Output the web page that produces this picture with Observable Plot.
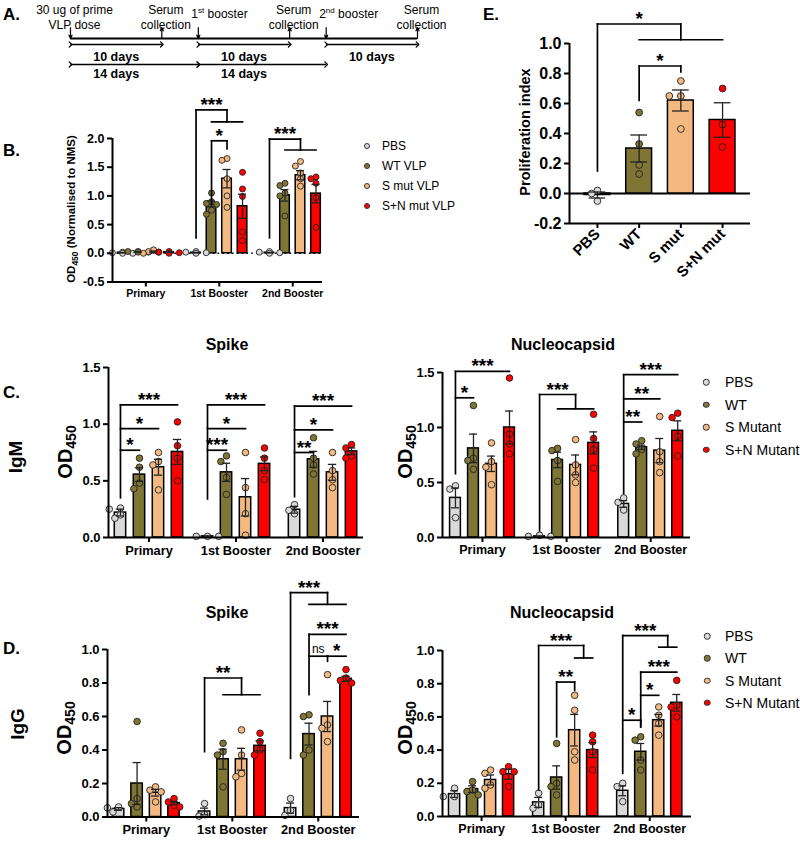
<!DOCTYPE html>
<html><head><meta charset="utf-8">
<script src="https://cdn.jsdelivr.net/npm/d3@7"></script>
<script src="https://cdn.jsdelivr.net/npm/@observablehq/plot@0.6"></script>
<style>
body{margin:0;background:#fff;}
#page{position:relative;width:800px;height:841px;overflow:hidden;font-family:"Liberation Sans",Arial,sans-serif;color:#000;background:#fff;}
.abs{position:absolute;white-space:nowrap;line-height:1;}
.letter{font-weight:bold;font-size:17px;transform:translate(0,-50%);}
.rot{transform:translate(-50%,-50%) rotate(-90deg);font-weight:bold;}
.ctr{transform:translate(-50%,-50%);font-weight:bold;}
.lt{transform:translate(0,-50%);}
.dot{border-radius:50%;border:0.8px solid #333;box-sizing:border-box;transform:translate(-50%,-50%);}
.holder{position:absolute;}
.holder svg{overflow:visible;}
g[aria-label="stars"] text{letter-spacing:2px;}
</style></head><body><div id="page"></div>
<script>
// ---------- DATA ----------
const groups = ["Primary", "1st Booster", "2nd Booster"];
const seriesB = ["PBS", "WT VLP", "S mut VLP", "S+N mut VLP"];
const seriesCD = ["PBS", "WT", "S Mutant", "S+N Mutant"];
const seriesE = ["PBS", "WT", "S mut", "S+N mut"];
const colors = ["#d9d9d9", "#7f7535", "#f3b981", "#ff0000"];

// Timeline (days)
const eventDays = [0, 10, 14, 24, 28, 38];
const eventKinds = ["prime", "collect", "booster", "collect", "booster", "collect"];
const eventLabels = ["30 ug of prime\nVLP dose", "Serum\ncollection", "1st booster", "Serum\ncollection", "2nd booster", "Serum\ncollection"];
const tenStart = [0, 14, 28], tenEnd = [10, 24, 38];
const fourteenStart = [0, 14], fourteenEnd = [14, 28];

// B: OD450 normalised to NMS  [series][group]
const bMean = [[0.01, 0.01, 0.01], [0.02, 0.86, 1.01], [0.03, 1.30, 1.36], [0.02, 0.82, 1.04]];
const bSem = [[0.005, 0.005, 0.005], [0.005, 0.05, 0.10], [0.01, 0.16, 0.08], [0.005, 0.21, 0.16]];
const bPts = [
  [[0.00, 0.01, 0.02, 0.00], [0.00, 0.03, 0.01, 0.02], [0.00, 0.02, 0.01, 0.03]],
  [[0.02, 0.03, 0.03, 0.02], [1.05, 0.90, 0.87, 0.85, 0.75, 0.68], [1.22, 1.18, 1.05, 1.00, 0.65]],
  [[0.06, 0.00, 0.02, 0.03], [1.65, 1.62, 1.30, 1.00, 0.80], [1.60, 1.52, 1.40, 1.30, 1.17]],
  [[0.01, 0.03, 0.02, 0.00], [1.41, 1.12, 0.99, 0.37, 0.22], [1.33, 1.30, 1.22, 0.97, 0.45]]
];
const bBrackets = [
  {type: "grp", g: 1, from: 0, a: 1, b: 3, y0: 0.27, yTop: 2.50, yLow: 2.29, label: "***"},
  {type: "pair", g: 1, from: 1, to: 2, y0: 0.85, y1: 1.96, y2: 1.82, label: "*"},
  {type: "grp", g: 2, from: 0, a: 1, b: 3, y0: 0.27, yTop: 1.99, yLow: 1.80, label: "***"}
];

// E: proliferation index
const eMean = [-0.01, 0.30, 0.62, 0.49];
const eSem = [0.02, 0.09, 0.07, 0.115];
const ePts = [[0.00, 0.02, -0.05], [0.54, 0.33, 0.19, 0.13], [0.75, 0.65, 0.65, 0.43], [0.70, 0.46, 0.31]];
const eBrackets = [
  {type: "grp", g: 0, from: 0, a: 1, b: 3, y0: 0.15, yTop: 1.13, yLow: 1.025, label: "*"},
  {type: "pair", g: 0, from: 1, to: 2, y0: 0.62, y1: 0.85, y2: 0.81, label: "*"}
];

// C: IgM Spike
const smMean = [[0.22, 0.01, 0.245], [0.555, 0.575, 0.69], [0.62, 0.355, 0.575], [0.755, 0.65, 0.76]];
const smSem = [[0.03, 0.005, 0.03], [0.06, 0.08, 0.07], [0.07, 0.165, 0.07], [0.11, 0.06, 0.03]];
const smPts = [
  [[0.26, 0.25, 0.20, 0.17], [0.01, 0.01, 0.01], [0.29, 0.24, 0.21]],
  [[0.70, 0.62, 0.48, 0.43], [0.72, 0.67, 0.53, 0.38], [0.88, 0.70, 0.64, 0.56]],
  [[0.75, 0.67, 0.64, 0.42], [0.75, 0.44, 0.21, 0.02], [0.75, 0.59, 0.51, 0.44]],
  [[1.02, 0.81, 0.70, 0.50], [0.79, 0.70, 0.59, 0.51], [0.82, 0.79, 0.72, 0.70]]
];
const smBrackets = [
  {type: "fan", g: 0, from: 0, y0: 0.35, arms: [[3, 1.17, "***"], [2, 0.96, "*"], [1, 0.77, "*"]]},
  {type: "fan", g: 1, from: 0, y0: 0.34, arms: [[3, 1.17, "***"], [2, 0.96, "*"], [1, 0.77, "***"]]},
  {type: "fan", g: 2, from: 0, y0: 0.36, arms: [[3, 1.16, "***"], [2, 0.95, "*"], [1, 0.75, "**"]]}
];

// C: IgM Nucleocapsid
const nmMean = [[0.36, 0.01, 0.305], [0.81, 0.705, 0.82], [0.67, 0.66, 0.79], [1.00, 0.86, 0.97]];
const nmSem = [[0.09, 0.005, 0.03], [0.13, 0.07, 0.02], [0.07, 0.09, 0.11], [0.15, 0.10, 0.09]];
const nmPts = [
  [[0.47, 0.44, 0.18], [0.02, 0.01, 0.01], [0.36, 0.32, 0.25]],
  [[1.20, 0.72, 0.70, 0.62], [0.81, 0.79, 0.70, 0.51], [0.88, 0.85, 0.80, 0.76]],
  [[0.86, 0.69, 0.64, 0.48], [0.89, 0.66, 0.57, 0.50], [1.10, 0.78, 0.69, 0.59]],
  [[1.45, 0.94, 0.85, 0.76], [1.12, 0.90, 0.80, 0.63], [1.13, 1.09, 0.92, 0.74]]
];
const nmBrackets = [
  {type: "fan", g: 0, from: 0, y0: 0.58, arms: [[3, 1.51, "***"], [1, 1.27, "*"]]},
  {type: "grp", g: 1, from: 0, a: 1, b: 3, y0: 0.06, yTop: 1.30, yLow: 1.17, label: "***"},
  {type: "fan", g: 2, from: 0, y0: 0.40, arms: [[3, 1.48, "***"], [2, 1.26, "**"], [1, 1.05, "**"]]}
];

// D: IgG Spike
const sgMean = [[0.048, 0.033, 0.053], [0.20, 0.345, 0.495], [0.145, 0.345, 0.60], [0.083, 0.425, 0.825]];
const sgSem = [[0.008, 0.02, 0.03], [0.125, 0.06, 0.065], [0.02, 0.065, 0.09], [0.01, 0.03, 0.015]];
const sgPts = [
  [[0.06, 0.055, 0.03], [0.08, 0.015, 0.005], [0.11, 0.04, 0.01]],
  [[0.57, 0.11, 0.08, 0.06], [0.44, 0.39, 0.37, 0.18], [0.61, 0.60, 0.40, 0.37]],
  [[0.18, 0.16, 0.15, 0.09], [0.52, 0.37, 0.26, 0.24], [0.85, 0.55, 0.53, 0.45]],
  [[0.11, 0.09, 0.07, 0.06], [0.50, 0.45, 0.40, 0.37], [0.88, 0.83, 0.815, 0.80]]
];
const sgBrackets = [
  {type: "grp", g: 1, from: 0, a: 1, b: 3, y0: 0.39, yTop: 0.83, yLow: 0.73, label: "**"},
  {type: "grp", g: 2, from: 0, a: 1, b: 3, y0: 0.35, yTop: 1.34, yLow: 1.27, label: "***"},
  {type: "fan", g: 2, from: 1, y0: 0.73, arms: [[3, 1.09, "***"], [2, 0.96, "ns"]]},
  {type: "pair", g: 2, from: 3, to: 2, y0: 0.96, y1: 0.96, y2: 0.93, label: "*"}
];

// D: IgG Nucleocapsid
const ngMean = [[0.135, 0.085, 0.155], [0.165, 0.235, 0.39], [0.22, 0.52, 0.58], [0.255, 0.40, 0.685]];
const ngSem = [[0.02, 0.03, 0.03], [0.02, 0.07, 0.05], [0.03, 0.095, 0.035], [0.03, 0.045, 0.05]];
const ngPts = [
  [[0.17, 0.12, 0.12], [0.14, 0.07, 0.05], [0.20, 0.18, 0.09]],
  [[0.21, 0.16, 0.15, 0.13], [0.44, 0.20, 0.18, 0.13], [0.48, 0.46, 0.34, 0.28]],
  [[0.28, 0.26, 0.19, 0.17], [0.73, 0.64, 0.39, 0.34], [0.66, 0.61, 0.56, 0.49]],
  [[0.30, 0.27, 0.27, 0.18], [0.49, 0.45, 0.39, 0.28], [0.82, 0.67, 0.66, 0.60]]
];
const ngBrackets = [
  {type: "grp", g: 1, from: 0, a: 2, b: 3, y0: 0.16, yTop: 1.03, yLow: 0.955, label: "***"},
  {type: "pair", g: 1, from: 1, to: 2, y0: 0.48, y1: 0.81, y2: 0.76, label: "**"},
  {type: "grp", g: 2, from: 0, a: 2, b: 3, y0: 0.26, yTop: 1.09, yLow: 1.02, label: "***"},
  {type: "pair", g: 2, from: 0, to: 1, y0: 0.58, y1: 0.58, y2: 0.54, label: "*"},
  {type: "fan", g: 2, from: 1, y0: 0.54, arms: [[3, 0.87, "***"], [2, 0.73, "*"]]}
];

// ---------- RENDER ----------
const page = document.getElementById("page");
const FONT = "Liberation Sans, Arial, sans-serif";

function addDiv(cls, x, y, html, styleExtra) {
  const d = document.createElement("div");
  d.className = "abs " + cls;
  d.style.left = x + "px"; d.style.top = y + "px";
  if (styleExtra) Object.assign(d.style, styleExtra);
  d.innerHTML = html;
  page.appendChild(d);
  return d;
}
function place(svg, left, top) {
  const h = document.createElement("div");
  h.className = "holder";
  h.style.left = left + "px"; h.style.top = top + "px";
  h.appendChild(svg);
  page.appendChild(h);
}

function bracketGeometry(list, xOf) {
  const segs = [], labels = [];
  for (const b of list) {
    if (b.type === "fan") {
      const x0 = xOf(b.g, b.from);
      const ymax = d3.max(b.arms, a => a[1]);
      segs.push({x1: x0, x2: x0, y1: b.y0, y2: ymax});
      for (const [to, y, label] of b.arms) {
        const xt = xOf(b.g, to);
        segs.push({x1: x0, x2: xt, y1: y, y2: y});
        labels.push({x: (x0 + xt) / 2, y, text: label});
      }
    } else if (b.type === "grp") {
      const x0 = xOf(b.g, b.from), xa = xOf(b.g, b.a), xb = xOf(b.g, b.b), xm = (xa + xb) / 2;
      segs.push({x1: x0, x2: x0, y1: b.y0, y2: b.yTop});
      segs.push({x1: x0, x2: xm, y1: b.yTop, y2: b.yTop});
      segs.push({x1: xm, x2: xm, y1: b.yTop, y2: b.yLow});
      segs.push({x1: xa, x2: xb, y1: b.yLow, y2: b.yLow});
      labels.push({x: (x0 + xm) / 2, y: b.yTop, text: b.label});
    } else if (b.type === "pair") {
      const x0 = xOf(b.g, b.from), xt = xOf(b.g, b.to);
      if (b.y0 !== b.y1) segs.push({x1: x0, x2: x0, y1: b.y0, y2: b.y1});
      segs.push({x1: x0, x2: xt, y1: b.y1, y2: b.y1});
      segs.push({x1: xt, x2: xt, y1: b.y1, y2: b.y2});
      labels.push({x: (x0 + xt) / 2, y: b.y1, text: b.label});
    }
  }
  return {segs, labels};
}

function barChart(c) {
  const {frame, pad, xDomain, yDomain, yTicks, G, nGroups, mean, sem, pts, brackets, bw, dotR, zero, xLabels, xFont, yFont, xRotate, cap} = c;
  const xOf = (g, i) => g * G + i;
  const W = frame.r - frame.l, H = frame.b - frame.t;
  const pxX = W / (xDomain[1] - xDomain[0]), pxY = H / (yDomain[1] - yDomain[0]);
  const bars = [], dots = [];
  for (let s = 0; s < 4; s++) for (let g = 0; g < nGroups; g++) {
    const x = xOf(g, s);
    bars.push({x, y: mean[s][g], e: sem[s][g], c: colors[s]});
    const vals = pts[s][g].slice().sort((a, b) => b - a);
    const placed = [];
    const step = dotR * 1.7;
    const cands = [0, -step, step, -2 * step, 2 * step, -3 * step, 3 * step];
    for (const v of vals) {
      let off = 0;
      for (const cnd of cands) {
        if (placed.every(p => Math.hypot(p.o - cnd, (p.v - v) * pxY) >= dotR * 1.75)) { off = cnd; break; }
      }
      placed.push({o: off, v});
      dots.push({x: x + off / pxX, y: v, c: colors[s]});
    }
  }
  const tickPos = nGroups > 1 ? d3.range(nGroups).map(g => xOf(g, 1.5)) : d3.range(4).map(i => xOf(0, i));
  const tickLabel = d => xLabels[d3.minIndex(tickPos, t => Math.abs(t - d))];
  const {segs, labels} = bracketGeometry(brackets, xOf);
  const marks = [];
  if (zero === "dotted") marks.push(Plot.ruleY([0], {x1: xDomain[0], x2: xDomain[1], stroke: "black", strokeWidth: 1.6, strokeDasharray: "1.6,3.2"}));
  if (zero === "solid") marks.push(Plot.ruleY([0], {x1: xDomain[0], x2: xDomain[1], stroke: "black", strokeWidth: 2}));
  marks.push(
    Plot.rect(bars, {x1: d => d.x - bw / 2, x2: d => d.x + bw / 2, y1: 0, y2: "y", fill: "c", stroke: "black", strokeWidth: 1.5}),
    Plot.dot(dots, {x: "x", y: "y", r: dotR, fill: "c", stroke: "#222", strokeWidth: 0.9}),
    Plot.ruleX(bars, {x: "x", y1: d => d.y - d.e, y2: d => d.y + d.e, stroke: "#222", strokeWidth: 1.3}),
    Plot.ruleY(bars, {y: d => d.y + d.e, x1: d => d.x - cap, x2: d => d.x + cap, stroke: "#222", strokeWidth: 1.3}),
    Plot.ruleY(bars, {y: d => d.y - d.e, x1: d => d.x - cap, x2: d => d.x + cap, stroke: "#222", strokeWidth: 1.3}),
    Plot.ruleX([xDomain[0]], {y1: yDomain[0], y2: yDomain[1], stroke: "black", strokeWidth: 2}),
    Plot.ruleY([yDomain[0]], {x1: xDomain[0], x2: xDomain[1], stroke: "black", strokeWidth: 2}),
    Plot.axisY({ticks: yTicks, tickFormat: d => d.toFixed(1), tickSize: 5, tickPadding: 3, fontSize: yFont, fontWeight: "bold", strokeWidth: 2, label: null}),
    Plot.axisX({ticks: tickPos, tickFormat: tickLabel, tickSize: 5, tickPadding: 3, fontSize: xFont, fontWeight: "bold", strokeWidth: 2, label: null, tickRotate: xRotate || 0}),
    Plot.link(segs, {x1: "x1", y1: "y1", x2: "x2", y2: "y2", stroke: "black", strokeWidth: 1.7, strokeLinecap: "square"}),
    Plot.text(labels.filter(d => d.text !== "ns"), {x: "x", y: "y", text: "text", lineAnchor: "bottom", dy: 1, fontSize: 19, fontWeight: "bold", ariaLabel: "stars"}),
    Plot.text(labels.filter(d => d.text === "ns"), {x: "x", y: "y", text: "text", lineAnchor: "bottom", dy: -3, fontSize: 12, fontWeight: "normal"})
  );
  const svg = Plot.plot({
    width: W + pad.l + pad.r, height: H + pad.t + pad.b,
    marginLeft: pad.l, marginRight: pad.r, marginTop: pad.t, marginBottom: pad.b,
    x: {domain: xDomain}, y: {domain: yDomain},
    color: {type: "identity"},
    style: {fontFamily: FONT, color: "black", background: "transparent", overflow: "visible"},
    marks
  });
  place(svg, frame.l - pad.l, frame.t - pad.t);
}

// ---- Panel A: timeline ----
(function () {
  const events = eventDays.map((day, i) => ({day, kind: eventKinds[i], label: eventLabels[i]}));
  const ten = tenStart.map((s, i) => ({s, e: tenEnd[i]}));
  const fourteen = fourteenStart.map((s, i) => ({s, e: fourteenEnd[i], mid: (tenStart[i] + tenEnd[i]) / 2}));
  const L = {line: 38, arrowTop: 27, ten: 44, tenText: 56, fourteen: 64, fourteenText: 73, labelBase: 28, boosterBase: 17};
  const tl = Plot.plot({
    width: 480, height: 90, marginLeft: 70, marginRight: 63, marginTop: 0, marginBottom: 0,
    x: {domain: [0, 38], axis: null}, y: {domain: [0, 90], range: [0, 90], axis: null},
    style: {fontFamily: FONT, color: "black", background: "transparent", overflow: "visible"},
    marks: [
      Plot.ruleY([L.line], {x1: d3.min(eventDays), x2: d3.max(eventDays), stroke: "black", strokeWidth: 2}),
      Plot.arrow(events.filter(d => d.kind !== "collect"), {x1: "day", x2: "day", y1: L.arrowTop, y2: L.line, headLength: 5, headAngle: 50, strokeWidth: 1.2}),
      Plot.arrow(events.filter(d => d.kind === "collect"), {x1: "day", x2: "day", y1: L.line, y2: L.arrowTop, headLength: 5, headAngle: 50, strokeWidth: 1.2}),
      Plot.link(ten, {x1: "s", x2: "e", y1: L.ten, y2: L.ten, markerStart: "arrow", markerEnd: "arrow", strokeWidth: 1.3}),
      Plot.link(fourteen, {x1: "s", x2: "e", y1: L.fourteen, y2: L.fourteen, markerStart: "arrow", markerEnd: "arrow", strokeWidth: 1.3}),
      Plot.text(ten, {x: d => (d.s + d.e) / 2, y: L.tenText, text: d => `${d.e - d.s} days`, fontWeight: "bold", fontSize: 12.5}),
      Plot.text(fourteen, {x: "mid", y: L.fourteenText, text: d => `${d.e - d.s} days`, fontWeight: "bold", fontSize: 12.5}),
      Plot.text(events.filter(d => d.kind !== "booster"), {x: "day", y: L.labelBase, text: "label", lineAnchor: "bottom", lineHeight: 1.2, fontSize: 12, dx: 4}),
      Plot.text(events.filter(d => d.kind === "booster"), {x: "day", y: L.boosterBase, text: "label", lineAnchor: "bottom", fontSize: 12, textAnchor: "start", dx: -7})
    ]
  });
  const ns = "http://www.w3.org/2000/svg";
  tl.querySelectorAll("text").forEach(t => {
    const m = t.textContent.match(/^(\d)(st|nd|rd|th) (.*)$/);
    if (m) {
      t.textContent = "";
      const a = document.createElementNS(ns, "tspan"); a.textContent = m[1];
      const b = document.createElementNS(ns, "tspan"); b.textContent = m[2]; b.setAttribute("font-size", "8"); b.setAttribute("dy", "-5");
      const c = document.createElementNS(ns, "tspan"); c.textContent = " " + m[3]; c.setAttribute("dy", "5");
      t.append(a, b, c);
    }
  });
  place(tl, 0, 0);
})();

// ---- Panel B ----
barChart({frame: {l: 112, r: 322, t: 137.5, b: 281}, pad: {l: 45, r: 6, t: 45, b: 26},
  xDomain: [-0.65, 12.9], yDomain: [-0.5, 2.0], yTicks: [-0.5, 0, 0.5, 1, 1.5, 2], G: 4.74, nGroups: 3,
  mean: bMean, sem: bSem, pts: bPts, brackets: bBrackets, bw: 0.62, dotR: 3, zero: "dotted",
  xLabels: groups, xFont: 10.5, yFont: 12.5, cap: 0.26});

// ---- Panel E ----
barChart({frame: {l: 569, r: 750, t: 43, b: 223}, pad: {l: 45, r: 6, t: 43, b: 75},
  xDomain: [-0.67, 3.67], yDomain: [-0.2, 1.0], yTicks: [-0.2, 0, 0.2, 0.4, 0.6, 0.8, 1.0], G: 1, nGroups: 1,
  mean: eMean.map(v => [v]), sem: eSem.map(v => [v]), pts: ePts.map(p => [p]), brackets: eBrackets, bw: 0.62, dotR: 3.4, zero: "solid",
  xLabels: seriesE, xFont: 15, yFont: 16, xRotate: -45, cap: 0.2});

// ---- Panel C ----
barChart({frame: {l: 108, r: 363, t: 367, b: 537}, pad: {l: 40, r: 6, t: 20, b: 26},
  xDomain: [-0.63, 12.79], yDomain: [0, 1.5], yTicks: [0, 0.5, 1, 1.5], G: 4.58, nGroups: 3,
  mean: smMean, sem: smSem, pts: smPts, brackets: smBrackets, bw: 0.6, dotR: 3.3, zero: null,
  xLabels: groups, xFont: 12.8, yFont: 13, cap: 0.22});
barChart({frame: {l: 442, r: 690, t: 372, b: 537}, pad: {l: 40, r: 6, t: 35, b: 26},
  xDomain: [-0.72, 13.05], yDomain: [0, 1.5], yTicks: [0, 0.5, 1, 1.5], G: 4.67, nGroups: 3,
  mean: nmMean, sem: nmSem, pts: nmPts, brackets: nmBrackets, bw: 0.6, dotR: 3.3, zero: null,
  xLabels: groups, xFont: 12.5, yFont: 13, cap: 0.22});

// ---- Panel D ----
barChart({frame: {l: 107, r: 359, t: 648.5, b: 816}, pad: {l: 40, r: 6, t: 80, b: 26},
  xDomain: [-0.6, 13.03], yDomain: [0, 1.0], yTicks: [0, 0.2, 0.4, 0.6, 0.8, 1.0], G: 4.65, nGroups: 3,
  mean: sgMean, sem: sgSem, pts: sgPts, brackets: sgBrackets, bw: 0.62, dotR: 3.3, zero: null,
  xLabels: groups, xFont: 12.8, yFont: 13, cap: 0.22});
barChart({frame: {l: 442, r: 691, t: 650, b: 816}, pad: {l: 40, r: 6, t: 40, b: 26},
  xDomain: [-0.67, 13.16], yDomain: [0, 1.0], yTicks: [0, 0.2, 0.4, 0.6, 0.8, 1.0], G: 4.67, nGroups: 3,
  mean: ngMean, sem: ngSem, pts: ngPts, brackets: ngBrackets, bw: 0.62, dotR: 3.3, zero: null,
  xLabels: groups, xFont: 12.5, yFont: 13, cap: 0.22});

// ---- Text: letters, titles, axis labels, legends ----
addDiv("letter", 3, 14, "A.");
addDiv("letter", 3, 150, "B.");
addDiv("letter", 3, 392, "C.");
addDiv("letter", 3, 648, "D.");
addDiv("letter", 483, 14, "E.");

const OD = (fs, sub) => `OD<sub style="font-size:${sub}px;vertical-align:-0.3em;line-height:0">450</sub>`;
addDiv("rot", 72, 209, OD(11.5, 8.5) + " (Normalised to NMS)", {fontSize: "11.5px"});
addDiv("rot", 525, 132, "Proliferation index", {fontSize: "14.5px"});
addDiv("rot", 65, 452, OD(20, 14), {fontSize: "20px"});
addDiv("rot", 405, 452, OD(20, 14), {fontSize: "20px"});
addDiv("rot", 64, 728, OD(20, 14), {fontSize: "20px"});
addDiv("rot", 405, 728, OD(20, 14), {fontSize: "20px"});
addDiv("rot", 15, 457, "IgM", {fontSize: "19px"});
addDiv("rot", 17, 724, "IgG", {fontSize: "19px"});
addDiv("ctr", 227, 345, "Spike", {fontSize: "16px"});
addDiv("ctr", 563, 345, "Nucleocapsid", {fontSize: "16px"});
addDiv("ctr", 227, 613, "Spike", {fontSize: "16px"});
addDiv("ctr", 562, 613, "Nucleocapsid", {fontSize: "16px"});

function legend(names, dx, tx, y0, dyStep, fs, ds) {
  names.forEach((n, i) => {
    const y = y0 + i * dyStep;
    addDiv("dot", dx, y, "", {width: ds + "px", height: ds + "px", background: colors[i]});
    addDiv("lt", tx, y, n, {fontSize: fs + "px"});
  });
}
legend(seriesB, 367, 382, 146, 20, 12, 6);
legend(seriesCD, 706, 725, 382, 22.5, 14, 6.5);
legend(seriesCD, 707, 725, 636, 22.3, 14, 6.5);
</script></body></html>
